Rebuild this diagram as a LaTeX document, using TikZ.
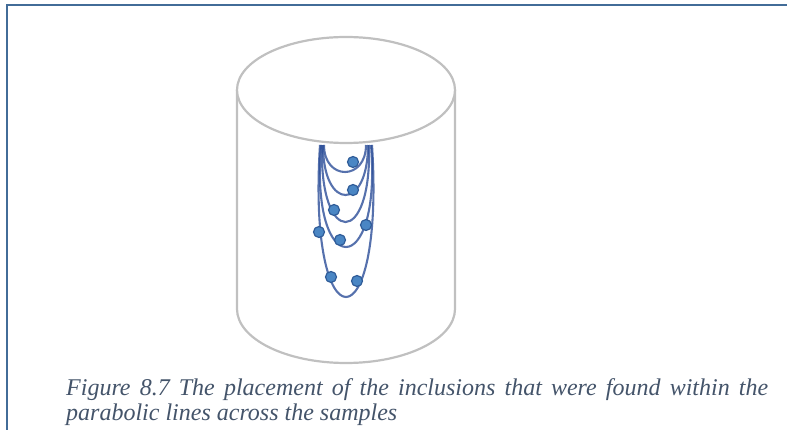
\documentclass[tikz,border=0pt]{standalone}
\usepackage{fontspec}
\setmainfont{Liberation Serif}
\definecolor{framecol}{RGB}{66,108,152}
\definecolor{captioncol}{RGB}{68,84,106}
\definecolor{cylcol}{RGB}{192,192,192}
\definecolor{curvecol}{RGB}{44,78,152}
\definecolor{dotfill}{RGB}{74,134,196}
\definecolor{dotedge}{RGB}{48,92,152}
\tikzset{
  framerule/.style={draw=framecol, line width=2.6pt},
  cylline/.style={draw=cylcol, line width=2.2pt},
  layer/.style={draw=curvecol, line width=2.1pt, opacity=0.8},
  inclusion/.style={circle, fill=dotfill, draw=dotedge, line width=1.2pt, minimum size=11pt, inner sep=0pt},
  captionline/.style={anchor=base west, inner sep=0pt, text=captioncol, font=\fontsize{24}{25}\selectfont\itshape}
}
% a U-shaped line from x=#1 to x=#2 at the top face, reaching depth #3,
% its arms bowing outwards by #4
\newcommand\ucurve[4]{%
  \draw[layer] (#1,145) .. controls ({#1-#4},{145+4/3*(#3-145)}) and ({#2+#4},{145+4/3*(#3-145)}) .. (#2,145);}
\begin{document}
\begin{tikzpicture}[x=1pt,y=-1pt]
\useasboundingbox (0,0) rectangle (787,430);
% page frame
\draw[framerule] (787,5) -- (7,5) -- (7,430);
% cylinder body
\draw[cylline] (237,90) -- (237,309) arc[start angle=180, end angle=0, x radius=109, y radius=54] -- (455,90);
\draw[cylline, fill=white] (346,90) ellipse[x radius=109, y radius=53];
% nested parabolic lines hanging from the top face
\ucurve{320}{372}{297}{13}
\ucurve{321}{371}{247}{11}
\ucurve{322}{369}{222}{3}
\ucurve{323}{368}{195}{0}
\ucurve{324}{366}{172}{0}
% inclusions
\node[inclusion] (i1) at (353,162) {};
\node[inclusion] (i2) at (353,190) {};
\node[inclusion] (i3) at (334,210) {};
\node[inclusion] (i4) at (319,232) {};
\node[inclusion] (i5) at (366,225) {};
\node[inclusion] (i6) at (340,240) {};
\node[inclusion] (i7) at (331,277) {};
\node[inclusion] (i8) at (357,281) {};
% caption
\node[captionline] (cap1) at (66,395) {\makebox[702pt][s]{Figure 8.7 The placement of the inclusions that were found within the}};
\node[captionline] (cap2) at (66,420) {parabolic lines across the samples};
\end{tikzpicture}
\end{document}
